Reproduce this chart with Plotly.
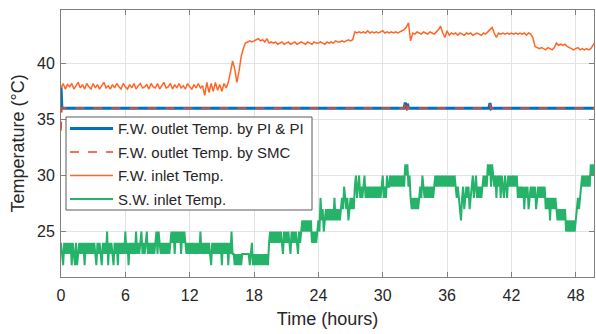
import numpy as np
import plotly.graph_objects as go

# ---------------- data ----------------
x_ticks = [0, 6, 12, 18, 24, 30, 36, 42, 48]
y_ticks = [25, 30, 35, 40]

# F.W. inlet temperature, sampled every 0.2 h (0 .. 50 h)
fw_inlet_step = 0.2
fw_inlet = [
    37.8, 38.2, 37.7, 38.1, 37.9,
    38.2, 37.7, 38.0, 38.3, 37.8,
    38.1, 37.7, 38.2, 37.9, 37.7,
    38.2, 37.8, 38.1, 37.7, 38.0,
    38.3, 37.8, 38.0, 37.7, 38.1,
    37.8, 38.2, 37.9, 37.7, 38.2,
    37.9, 37.7, 38.1, 37.8, 38.2,
    37.7, 38.0, 38.2, 37.8, 37.9,
    38.1, 37.7, 38.2, 37.9, 37.8,
    38.2, 37.7, 38.0, 38.3, 37.8,
    37.9, 38.2, 37.7, 38.1, 37.8,
    38.2, 37.8, 38.0, 37.7, 38.2,
    37.9, 37.7, 38.1, 37.8, 38.2,
    37.8, 38.0, 37.15, 38.3, 37.4,
    38.2, 37.5, 38.3, 37.6, 38.1,
    37.5, 38.2, 37.8, 38.3, 39.2,
    40.2, 39.5, 38.3, 39.3, 40.6,
    41.3, 41.8, 41.9, 42.0, 41.9,
    42.0, 42.1, 42.2, 42.0, 42.1,
    41.9, 42.2, 41.8, 41.9, 41.8,
    41.9, 41.7, 41.8, 41.9, 41.7,
    41.8, 41.9, 41.7, 41.8, 41.9,
    41.7, 41.8, 41.9, 41.8, 41.7,
    41.9, 41.8, 41.7, 41.9, 41.8,
    41.8, 41.9, 41.8, 41.7, 41.9,
    41.8, 41.9, 41.8, 42.0, 41.9,
    41.9, 42.0, 41.9, 42.0, 42.1,
    42.0, 42.1, 42.8, 42.7, 42.8,
    42.7, 42.8, 42.7, 42.9, 42.7,
    42.8, 42.7, 42.8, 42.7, 42.8,
    42.9, 42.7, 42.8, 42.7, 42.8,
    42.7, 42.8, 42.7, 42.8, 42.9,
    43.0, 43.2, 43.6, 42.0, 42.7,
    42.6, 42.8, 42.7, 42.6, 42.8,
    42.7, 42.6, 42.8, 42.7, 42.6,
    42.8, 43.0, 43.3, 42.7, 42.3,
    42.9, 42.5, 42.7, 42.6, 42.7,
    42.5, 42.7, 42.6, 42.5, 42.7,
    42.6, 42.7, 42.5, 42.6, 42.7,
    42.6, 42.5, 42.7, 42.6, 42.8,
    43.0, 43.2, 42.7, 42.3, 42.7,
    42.6, 42.7, 42.6, 42.7, 42.6,
    42.7, 42.6, 42.7, 42.6, 42.7,
    42.6, 42.7, 42.5, 42.7, 42.6,
    42.3, 41.5, 41.4, 41.3, 41.4,
    41.3, 41.2, 41.4, 41.3, 41.2,
    41.4, 41.8, 41.6, 41.7, 41.6,
    41.7, 41.5, 41.4, 41.3, 41.2,
    41.3, 41.4, 41.2, 41.3, 41.2,
    41.3, 41.2, 41.3, 41.6, 41.9,
    42.0,
]

# S.W. inlet temperature, sampled every 0.1 h (0 .. 50 h)
sw_inlet_step = 0.1
sw_inlet = [
    24, 23, 22, 24, 23, 24, 23, 24, 23, 24,
    22, 24, 23, 22, 24, 22, 23, 24, 23, 24,
    23, 24, 22, 24, 23, 24, 23, 24, 23, 24,
    23, 24, 23, 22, 24, 23, 24, 23, 22, 24,
    23, 24, 23, 25, 22, 24, 23, 24, 23, 22,
    24, 23, 24, 22, 24, 23, 24, 23, 24, 23,
    25, 23, 24, 22, 24, 23, 24, 23, 24, 23,
    25, 23, 24, 23, 24, 25, 23, 24, 23, 24,
    25, 23, 24, 23, 24, 23, 24, 23, 24, 25,
    23, 25, 24, 23, 24, 23, 24, 23, 24, 23,
    24, 23, 24, 25, 24, 25, 23, 25, 24, 25,
    24, 25, 23, 25, 24, 25, 24, 23, 24, 23,
    24, 23, 24, 23, 24, 23, 24, 23, 24, 23,
    25, 23, 24, 23, 24, 23, 24, 23, 24, 23,
    22, 24, 23, 24, 23, 24, 23, 24, 23, 24,
    22, 24, 23, 24, 23, 24, 22, 24, 23, 25,
    23, 23, 22, 23, 22, 23, 22, 23, 22, 23,
    23, 23, 23, 23, 23, 23, 22, 23, 24, 22,
    23, 22, 23, 22, 23, 22, 23, 22, 23, 22,
    23, 22, 23, 22, 24, 25, 24, 25, 24, 25,
    24, 25, 24, 25, 24, 25, 24, 23, 25, 24,
    25, 24, 25, 24, 23, 25, 24, 25, 24, 25,
    24, 23, 25, 24, 25, 26, 25, 26, 25, 26,
    25, 26, 25, 26, 24, 25, 24, 25, 24, 25,
    26, 25, 28, 26, 27, 25, 26, 27, 26, 27,
    26, 27, 26, 27, 26, 28, 26, 27, 26, 27,
    26, 27, 28, 27, 29, 28, 27, 28, 26, 27,
    28, 27, 28, 27, 29, 30, 28, 29, 30, 28,
    29, 28, 29, 30, 28, 29, 28, 29, 28, 29,
    28, 29, 28, 29, 28, 29, 28, 29, 28, 29,
    30, 28, 29, 28, 30, 29, 29, 30, 29, 30,
    29, 30, 29, 30, 29, 30, 29, 30, 29, 30,
    29, 31, 30, 31, 29, 30, 28, 27, 28, 27,
    28, 27, 28, 27, 28, 29, 28, 30, 29, 28,
    29, 28, 29, 28, 29, 28, 29, 28, 29, 30,
    29, 30, 29, 30, 29, 30, 29, 30, 29, 30,
    29, 30, 29, 30, 29, 30, 29, 30, 29, 28,
    29, 28, 27, 26, 28, 29, 27, 28, 29, 28,
    29, 27, 28, 29, 30, 28, 29, 30, 28, 29,
    28, 29, 28, 29, 30, 29, 30, 29, 31, 30,
    31, 29, 31, 30, 29, 30, 28, 30, 29, 30,
    28, 30, 29, 28, 30, 29, 28, 30, 29, 30,
    29, 30, 29, 30, 29, 30, 28, 29, 28, 29,
    28, 29, 27, 29, 28, 29, 27, 28, 29, 28,
    29, 28, 29, 27, 28, 29, 28, 29, 28, 29,
    28, 29, 27, 28, 27, 28, 26, 28, 27, 28,
    27, 28, 27, 26, 27, 26, 27, 26, 27, 26,
    27, 25, 26, 25, 26, 25, 26, 25, 26, 25,
    26, 27, 28, 27, 28, 29, 30, 29, 30, 29,
    30, 29, 30, 29, 31, 30, 31, 30, 31, 30,
    30,
]

# F.W. outlet temperature (PI & PI), key samples
pi_time = [0.0, 0.08, 32.0, 32.1, 32.2, 32.3, 32.4, 39.9, 40.0, 40.1, 40.2, 49.7]
pi_temp = [37.9, 36.0, 36.0, 36.5, 35.9, 36.4, 36.0, 36.0, 36.45, 35.95, 36.0, 36.0]

# F.W. outlet temperature (SMC), key samples
smc_time = [0.0, 0.08, 32.0, 32.1, 32.2, 32.3, 32.4, 39.9, 40.0, 40.1, 40.2, 49.7]
smc_temp = [34.0, 36.0, 36.0, 36.3, 35.6, 36.2, 36.0, 36.0, 36.3, 35.9, 36.0, 36.0]

series_names = ["F.W. outlet Temp. by PI & PI", "F.W. outlet Temp. by SMC",
                "F.W. inlet Temp.", "S.W. inlet Temp."]

# ---------------- figure ----------------
t_fw = np.arange(len(fw_inlet)) * fw_inlet_step
t_sw = np.arange(len(sw_inlet)) * sw_inlet_step

BLUE = "#0072BD"
RED = "#F2451C"
ORANGE = "#FF6626"
GREEN = "#25B36A"
styles = [
    dict(color=BLUE, width=3),
    dict(color=RED, width=1.6, dash="dash"),
    dict(color=ORANGE, width=1.5),
    dict(color=GREEN, width=2),
]

fig = go.Figure()
fig.add_trace(go.Scatter(x=pi_time, y=pi_temp, mode="lines", name=series_names[0],
                         line=dict(simplify=False, **styles[0])))
fig.add_trace(go.Scatter(x=smc_time, y=smc_temp, mode="lines", name=series_names[1],
                         line=dict(simplify=False, **styles[1])))
fig.add_trace(go.Scatter(x=t_fw, y=fw_inlet, mode="lines", name=series_names[2],
                         line=dict(simplify=False, **styles[2])))
fig.add_trace(go.Scatter(x=t_sw, y=sw_inlet, mode="lines", name=series_names[3],
                         line=dict(simplify=False, **styles[3])))

FONT = "Liberation Sans, Arial, sans-serif"
axis_common = dict(
    showgrid=True, gridcolor="#E3E3E3", gridwidth=1,
    showline=True, linecolor="#808080", linewidth=1, mirror="ticks",
    ticks="inside", ticklen=5, tickcolor="#808080",
    zeroline=False, automargin=False,
    tickfont=dict(family=FONT, size=16, color="#262626"),
)

# plot area in pixels (for placing the hand-drawn legend box)
PL, PR, PT, PB = 61, 594, 10, 277
def px(xp):
    return (xp - PL) / (PR - PL)
def py(yp):
    return (PB - yp) / (PB - PT)

shapes = [dict(type="rect", xref="paper", yref="paper", layer="above",
               x0=px(66), x1=px(312), y0=py(210), y1=py(117),
               line=dict(color="#5a5a5a", width=1), fillcolor="white")]
annotations = []
row_y = [128.5, 152, 175.5, 199]
for name, st, ry in zip(series_names, styles, row_y):
    shapes.append(dict(type="line", xref="paper", yref="paper", layer="above",
                       x0=px(70), x1=px(113), y0=py(ry), y1=py(ry),
                       line=dict(color=st["color"], width=st["width"], dash=st.get("dash", "solid"))))
    annotations.append(dict(text=name, xref="paper", yref="paper", x=px(116), y=py(ry),
                            xanchor="left", yanchor="middle", showarrow=False,
                            font=dict(family=FONT, size=15, color="#262626")))

fig.update_layout(
    width=596, height=334,
    margin=dict(l=PL, r=596 - PR, t=PT, b=334 - PB),
    paper_bgcolor="white", plot_bgcolor="white",
    font=dict(family=FONT, color="#262626"),
    xaxis=dict(range=[0, 49.7], tickvals=x_ticks, ticklabelstandoff=4,
               title=dict(text="Time (hours)", font=dict(family=FONT, size=18, color="#262626"), standoff=9),
               **axis_common),
    yaxis=dict(range=[20.95, 44.75], tickvals=y_ticks, ticklabelstandoff=2,
               title=dict(text="Temperature (°C)", font=dict(family=FONT, size=18, color="#262626"), standoff=7),
               **axis_common),
    showlegend=False,
    shapes=shapes,
    annotations=annotations,
)

fig.write_html("out.html", config={"displayModeBar": False},
               post_script="document.body.style.margin='0';")
